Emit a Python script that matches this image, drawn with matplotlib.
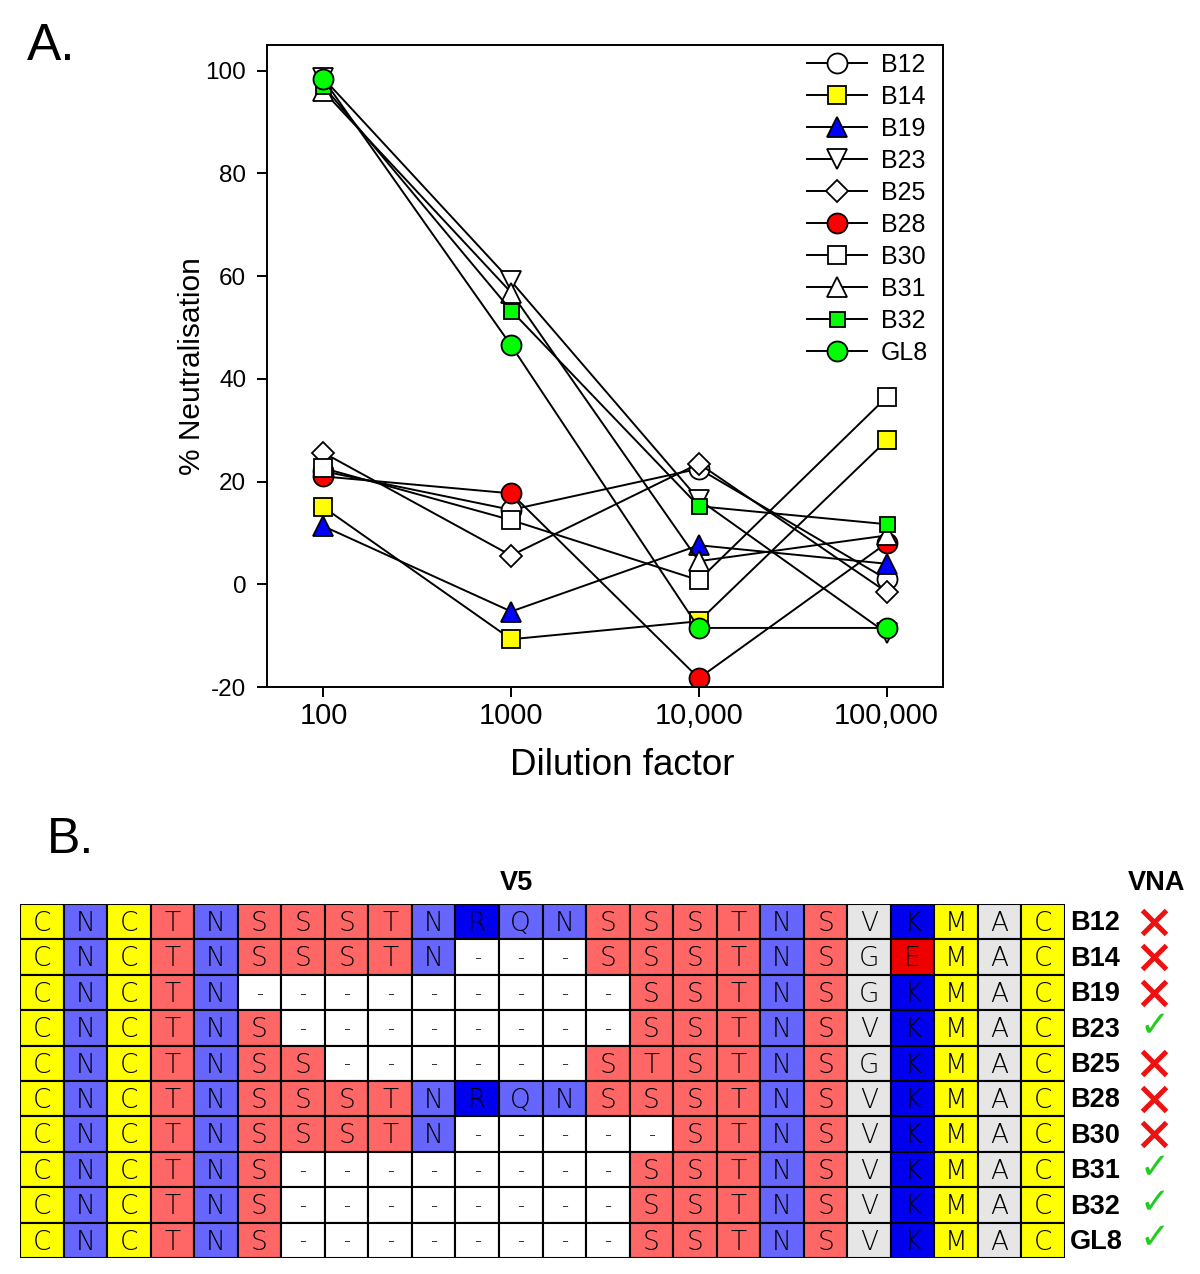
import matplotlib
matplotlib.use("Agg")
import matplotlib.pyplot as plt
from matplotlib.patches import Rectangle

plt.rcParams['font.family'] = ['Liberation Sans', 'DejaVu Sans']
plt.rcParams['axes.unicode_minus'] = False

# panel A data: % neutralisation at each dilution
dilutions = [100, 1000, 10000, 100000]
dilution_labels = ["100", "1000", "10,000", "100,000"]
samples = ["B12", "B14", "B19", "B23", "B25", "B28", "B30", "B31", "B32", "GL8"]
b12 = [22.0, 14.5, 22.5, 1.0]
b14 = [15.0, -10.7, -7.2, 28.0]
b19 = [11.3, -5.3, 7.6, 4.0]
b23 = [98.5, 59.0, 16.5, -9.5]
b25 = [25.6, 5.6, 23.5, -1.5]
b28 = [21.0, 17.7, -18.3, 8.0]
b30 = [22.6, 12.5, 0.8, 36.4]
b31 = [96.0, 56.8, 4.5, 9.5]
b32 = [97.0, 53.3, 15.2, 11.7]
gl8 = [98.3, 46.5, -8.5, -8.5]
series = [b12, b14, b19, b23, b25, b28, b30, b31, b32, gl8]

markers = ['o', 's', '^', 'v', 'D', 'o', 's', '^', 's', 'o']
face = ['white', '#FFFF00', '#0000FF', 'white', 'white', '#FF0000',
        'white', 'white', '#00FF00', '#00FF00']
msize = [14.4, 12.6, 13.7, 13.7, 11.7, 14.4, 12.6, 13.7, 10.8, 14.4]

# panel B data: V5 alignment
seqs = [
    "CNCTNSSSTNRQNSSSTNSVKMAC",
    "CNCTNSSSTN---SSSTNSGEMAC",
    "CNCTN---------SSTNSGKMAC",
    "CNCTNS--------SSTNSVKMAC",
    "CNCTNSS------STSTNSGKMAC",
    "CNCTNSSSTNRQNSSSTNSVKMAC",
    "CNCTNSSSTN-----STNSVKMAC",
    "CNCTNS--------SSTNSVKMAC",
    "CNCTNS--------SSTNSVKMAC",
    "CNCTNS--------SSTNSVKMAC",
]
vna = [False, False, False, True, False, False, False, True, True, True]

residue_colors = {
    'C': '#FFFF00', 'M': '#FFFF00',
    'N': '#6666FF', 'Q': '#6666FF',
    'S': '#FF6666', 'T': '#FF6666',
    'R': '#0000EE', 'K': '#0000EE',
    'E': '#EE0000',
    'G': '#E6E6E6', 'V': '#E6E6E6', 'A': '#E6E6E6',
    '-': 'white',
}

fig = plt.figure(figsize=(12, 12.74), dpi=100)

# ---- panel A ----
ax = fig.add_axes([267/1200, 1-687/1274, 676/1200, 642/1274])
for name, vals, m, fc, ms in zip(samples, series, markers, face, msize):
    ax.plot(dilutions, vals, color='black', lw=1.4, marker=m, ms=ms,
            mfc=fc, mec='black', mew=1.3, label=name)

ax.set_xscale('log')
ax.set_xlim(50, 200000)
ax.set_ylim(-20, 105)
ax.set_xticks(dilutions)
ax.set_xticklabels(dilution_labels)
ax.minorticks_off()
ax.set_yticks([-20, 0, 20, 40, 60, 80, 100])
ax.tick_params(axis='x', direction='out', length=7, width=1.4, labelsize=21, pad=4)
ax.tick_params(axis='y', direction='out', length=7, width=1.4, labelsize=17.5, pad=8)
for s in ax.spines.values():
    s.set_linewidth(1.4)

ax.set_xlabel("Dilution factor", fontsize=26.5)
ax.xaxis.set_label_coords((622-267)/676, (687-748)/642)
ax.set_ylabel("% Neutralisation", fontsize=21.5)
ax.yaxis.set_label_coords((206-267)/676, 0.5)

ax.legend(loc='upper left', bbox_to_anchor=(807/1200, 1-53/1274),
          bbox_transform=fig.transFigure, frameon=False, fontsize=18,
          handlelength=2.4, handletextpad=0.55, labelspacing=0.32,
          borderpad=0, borderaxespad=0)

fig.text(27/1200, 1-60/1274, "A.", fontsize=37, ha='left', va='baseline')

# ---- panel B ----
fig.text(47/1200, 1-853/1274, "B.", fontsize=36, ha='left', va='baseline')

tb = fig.add_axes([20/1200, 1-1258/1274, 1045/1200, 354/1274])
tb.set_xlim(0, 24)
tb.set_ylim(10, 0)
tb.axis('off')

for r, seq in enumerate(seqs):
    for c, aa in enumerate(seq):
        tb.add_patch(Rectangle((c, r), 1, 1, facecolor=residue_colors[aa],
                               edgecolor='black', lw=1.5))
        tb.text(c + 0.5, r + 0.55, aa, ha='center', va='center',
                fontsize=19 if aa != '-' else 14, color='black',
                family='DejaVu Sans', fontweight='light')
    tb.text(24.12, r + 0.55, samples[r], ha='left', va='center',
            fontsize=19.5, fontweight='bold', clip_on=False)
    if vna[r]:
        tb.text(26.05, r + 0.45, "\u2713", ha='center', va='center',
                fontsize=26, color='#22CC22', family='DejaVu Sans', clip_on=False)
    else:
        tb.plot([26.05], [r + 0.5], marker='x', ms=17, mew=3.6,
                color='#EE1111', clip_on=False)

tb.text(11.39, -0.6, "V5", ha='center', va='center', fontsize=19.5,
        fontweight='bold', clip_on=False)
tb.text(26.1, -0.6, "VNA", ha='center', va='center', fontsize=19.5,
        fontweight='bold', clip_on=False)

fig.savefig("out.png", dpi=100)
